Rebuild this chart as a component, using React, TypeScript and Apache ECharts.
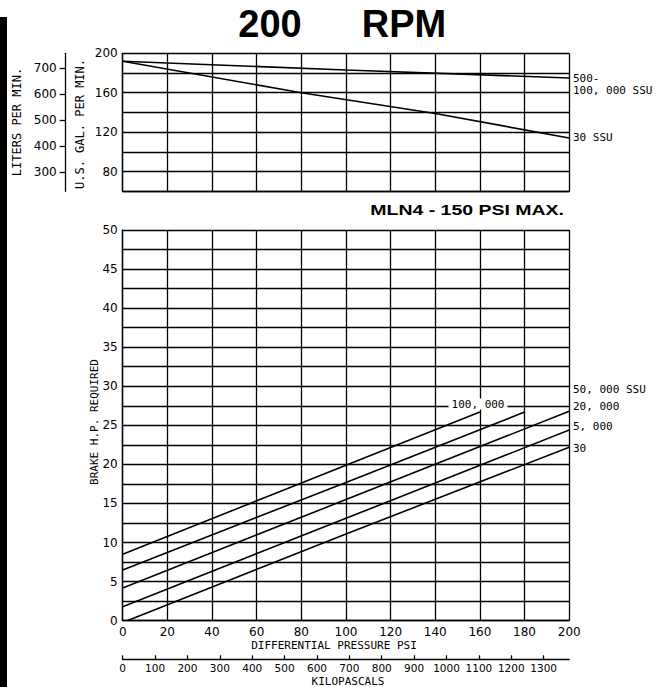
import React, { useEffect, useRef } from "react";
import * as echarts from "echarts";

// ---- data ----
const psiTicks = [0, 20, 40, 60, 80, 100, 120, 140, 160, 180, 200];
const literTicks = [300, 400, 500, 600, 700];
const kpaTicks = [0, 100, 200, 300, 400, 500, 600, 700, 800, 900, 1000, 1100, 1200, 1300];

// top chart: flow (US GPM) vs differential pressure (PSI)
const flowViscous = [[0, 192], [100, 183], [200, 175]]; // 500-100,000 SSU
const flowThin = [[0, 192], [80, 160], [140, 139], [200, 114]]; // 30 SSU

// bottom chart: brake HP vs differential pressure
const hp100k = [[0, 8.5], [100, 19.9], [160, 26.7]];
const hp50k = [[0, 6.5], [100, 17.7], [180, 26.7]];
const hp20k = [[0, 4.2], [100, 15.5], [200, 26.8]];
const hp5k = [[0, 1.8], [100, 13.1], [200, 24.4]];
const hp30 = [[2, 0], [100, 11.1], [200, 22.2]];

const topLabels = ["500-", "100, 000 SSU", "30 SSU"];
const bottomLabels = ["50, 000 SSU", "20, 000", "5, 000", "30"];

const GAL_TO_L = 3.78541;

const MONO = "'DejaVu Sans Mono', monospace";
const SANS = "'DejaVu Sans', sans-serif";
const HEAD = "'Liberation Sans', Arial, sans-serif";
const BLACK = "#000";
const GW = 1.3;

export default function App() {
  const ref = useRef<HTMLDivElement>(null);
  useEffect(() => {
    if (!ref.current) return;
    const chart = echarts.init(ref.current, undefined, { renderer: "svg" });
    const line = (data: number[][], xi: number, yi: number) => ({
      type: "line",
      xAxisIndex: xi,
      yAxisIndex: yi,
      data,
      showSymbol: false,
      symbol: "none",
      silent: true,
      lineStyle: { color: BLACK, width: 1.6 },
      z: 5,
    });
    const gridAxis = {
      axisLine: { show: true, lineStyle: { color: BLACK, width: GW } },
      axisTick: { show: false },
      splitLine: { show: true, lineStyle: { color: BLACK, width: GW } },
    };
    const txt = (text: string, x: number, y: number, extra: any = {}, style: any = {}) => ({
      type: "text",
      x,
      y,
      silent: true,
      ...extra,
      style: {
        text,
        fill: BLACK,
        font: `11px ${MONO}`,
        align: "left",
        verticalAlign: "middle",
        ...style,
      },
    });
    chart.setOption({
      animation: false,
      backgroundColor: "#fff",
      grid: [
        { left: 122.7, top: 53.3, width: 446.5, height: 138 },
        { left: 122.7, top: 230, width: 446.5, height: 390.7 },
      ],
      xAxis: [
        {
          gridIndex: 0,
          type: "value",
          min: psiTicks[0],
          max: psiTicks[psiTicks.length - 1],
          interval: 20,
          ...gridAxis,
          axisLabel: { show: false },
        },
        {
          gridIndex: 1,
          type: "value",
          min: psiTicks[0],
          max: psiTicks[psiTicks.length - 1],
          interval: 20,
          ...gridAxis,
          axisLabel: { show: true, margin: 5, color: BLACK, fontSize: 12, fontFamily: SANS },
        },
        {
          gridIndex: 1,
          type: "value",
          position: "bottom",
          offset: 38.6,
          min: 0,
          max: 200 * 6.89476,
          axisLine: { show: true, lineStyle: { color: BLACK, width: GW } },
          axisTick: { show: true, inside: true, length: 4, customValues: kpaTicks, lineStyle: { color: BLACK, width: GW } },
          axisLabel: {
            show: true,
            customValues: kpaTicks,
            margin: 3,
            color: BLACK,
            fontSize: 10.5,
            fontFamily: SANS,
            formatter: (v: number) => String(v),
          },
          splitLine: { show: false },
        },
      ],
      yAxis: [
        {
          gridIndex: 0,
          type: "value",
          min: 60,
          max: 200,
          interval: 20,
          ...gridAxis,
          axisLabel: {
            show: true,
            margin: 5,
            color: BLACK,
            fontSize: 12,
            fontFamily: SANS,
            formatter: (v: number) => (v % 40 === 0 ? String(v) : ""),
          },
        },
        {
          gridIndex: 0,
          type: "value",
          position: "left",
          offset: 57,
          min: 60 * GAL_TO_L,
          max: 200 * GAL_TO_L,
          axisLine: { show: true, lineStyle: { color: BLACK, width: GW } },
          axisTick: { show: true, length: 6, customValues: literTicks, lineStyle: { color: BLACK, width: GW } },
          axisLabel: { show: true, customValues: literTicks, margin: 9, color: BLACK, fontSize: 12, fontFamily: SANS },
          splitLine: { show: false },
        },
        {
          gridIndex: 1,
          type: "value",
          min: 0,
          max: 50,
          interval: 2.5,
          ...gridAxis,
          axisLabel: {
            show: true,
            margin: 5,
            color: BLACK,
            fontSize: 12,
            fontFamily: SANS,
            formatter: (v: number) => (v % 5 === 0 ? String(v) : ""),
          },
        },
      ],
      series: [
        line(flowViscous, 0, 0),
        line(flowThin, 0, 0),
        line(hp100k, 1, 2),
        line(hp50k, 1, 2),
        line(hp20k, 1, 2),
        line(hp5k, 1, 2),
        line(hp30, 1, 2),
      ],
      graphic: [
        { type: "rect", x: 0, y: 17, shape: { width: 7, height: 670 }, style: { fill: BLACK }, silent: true },
        txt("200", 270, 24, {}, { font: `bold 38px ${HEAD}`, align: "center" }),
        txt("RPM", 404, 24, {}, { font: `bold 38px ${HEAD}`, align: "center" }),
        txt("MLN4 - 150 PSI MAX.", 564, 210, { scaleX: 1.3 }, { font: `bold 15px ${HEAD}`, align: "right" }),
        txt("LITERS PER MIN.", 17, 122, { rotation: Math.PI / 2 }, { font: `12px ${MONO}`, align: "center" }),
        txt("U.S. GAL. PER MIN.", 80, 124, { rotation: Math.PI / 2 }, { font: `12px ${MONO}`, align: "center" }),
        txt("BRAKE H.P. REQUIRED", 94, 422, { rotation: Math.PI / 2 }, { font: `11px ${MONO}`, align: "center" }),
        txt(topLabels[0], 573, 78.5),
        txt(topLabels[1], 573, 90),
        txt(topLabels[2], 573, 137),
        txt(bottomLabels[0], 573, 389.5),
        txt(bottomLabels[1], 573, 406),
        txt(bottomLabels[2], 573, 426),
        txt(bottomLabels[3], 573, 448.5),
        txt("100, 000", 478, 404, { z: 10 }, { align: "center", backgroundColor: "#fff", padding: [0, 3] }),
        txt("DIFFERENTIAL PRESSURE PSI", 334, 645, {}, { align: "center" }),
        txt("KILOPASCALS", 348, 681, {}, { align: "center" }),
      ],
    });
    return () => chart.dispose();
  }, []);
  return (
    <div
      ref={ref}
      style={{ position: "fixed", left: 0, top: 0, width: 656, height: 687, background: "#fff" }}
    />
  );
}
